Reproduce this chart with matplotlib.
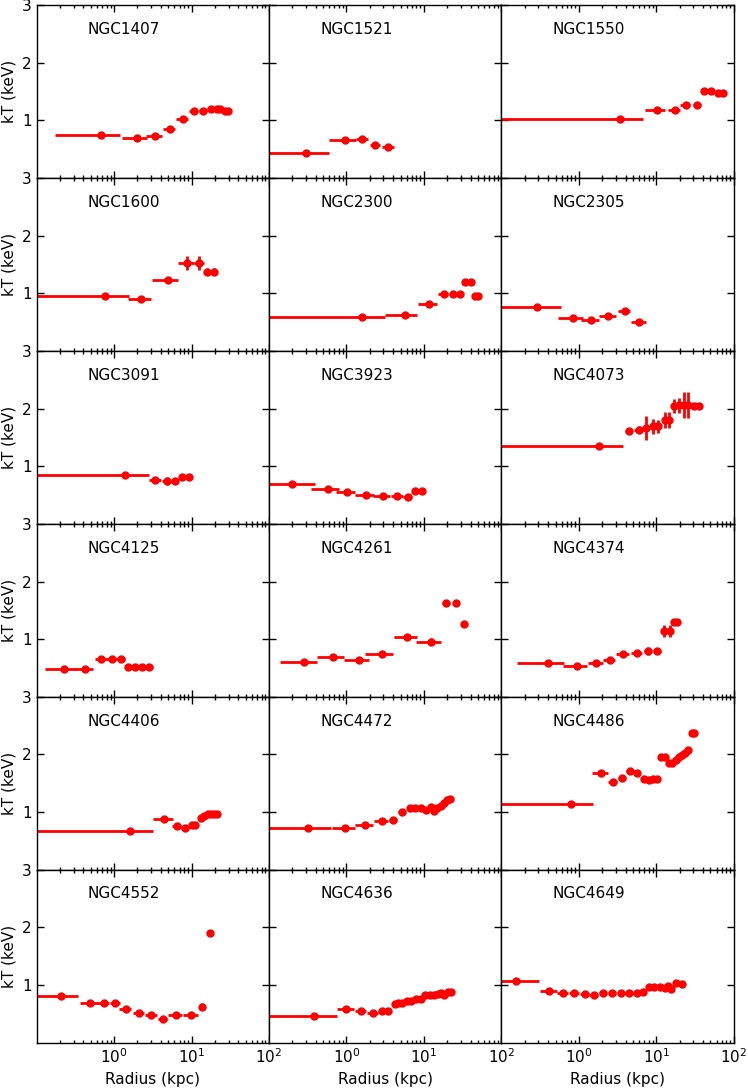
import numpy as np
import matplotlib.pyplot as plt
from matplotlib.ticker import LogLocator, LogFormatterMathtext, NullFormatter

# ----------------------------
# Data: temperature profiles (radius in kpc, kT in keV)
# ----------------------------
galaxies = ["NGC1407", "NGC1521", "NGC1550",
            "NGC1600", "NGC2300", "NGC2305",
            "NGC3091", "NGC3923", "NGC4073",
            "NGC4125", "NGC4261", "NGC4374",
            "NGC4406", "NGC4472", "NGC4486",
            "NGC4552", "NGC4636", "NGC4649"]

R = {
    "NGC1407": [0.68, 1.95, 3.38, 5.2, 7.7, 10.7, 14.0, 17.7, 21.0, 23.0, 27.0, 29.6],
    "NGC1521": [0.30, 0.97, 1.6, 2.35, 3.47],
    "NGC1550": [3.4, 10.1, 17.2, 24.0, 34.0, 41.5, 50.6, 62.0, 73.0],
    "NGC1600": [0.77, 2.25, 4.9, 8.7, 12.6, 16.0, 19.2],
    "NGC2300": [1.58, 5.66, 11.6, 17.9, 24.0, 29.0, 34.0, 40.0, 46.0, 50.0],
    "NGC2305": [0.29, 0.84, 1.44, 2.4, 3.9, 6.0],
    "NGC3091": [1.40, 3.38, 4.8, 6.06, 7.6, 9.35],
    "NGC3923": [0.197, 0.57, 1.01, 1.79, 2.92, 4.5, 6.2, 7.7, 9.3],
    "NGC4073": [1.84, 4.4, 5.9, 7.3, 9.1, 10.5, 12.9, 14.5, 16.9, 19.5, 22.6, 25.7, 30.5, 35.9],
    "NGC4125": [0.225, 0.426, 0.68, 0.935, 1.22, 1.52, 1.86, 2.28, 2.84],
    "NGC4261": [0.28, 0.667, 1.44, 2.88, 6.06, 12.2, 19.2, 25.9, 32.6],
    "NGC4374": [0.40, 0.96, 1.67, 2.51, 3.72, 5.66, 7.9, 10.3, 12.7, 14.8, 16.7, 18.6],
    "NGC4406": [1.61, 4.44, 6.4, 8.3, 10.0, 11.1, 13.1, 14.6, 16.3, 17.7, 19.4, 21.4],
    "NGC4472": [0.316, 0.97, 1.74, 2.84, 4.03, 5.27, 6.57, 7.7, 9.1, 10.7, 12.2, 13.3,
                14.8, 16.5, 18.4, 20.0, 21.6],
    "NGC4486": [0.78, 1.92, 2.76, 3.62, 4.55, 5.66, 6.84, 7.94, 9.1, 10.1, 11.5, 13.1,
                14.6, 15.9, 17.8, 19.5, 21.6, 23.5, 25.7, 28.5, 31.0],
    "NGC4552": [0.205, 0.49, 0.74, 1.03, 1.42, 2.08, 3.03, 4.26, 6.3, 9.87, 13.8, 17.2],
    "NGC4636": [0.38, 1.0, 1.52, 2.19, 2.88, 3.47, 4.2, 4.62, 5.27, 6.06, 6.9, 7.94,
                9.1, 10.4, 11.9, 13.6, 15.2, 16.6, 18.4, 20.5, 22.4],
    "NGC4649": [0.155, 0.415, 0.62, 0.87, 1.19, 1.56, 2.05, 2.69, 3.52, 4.44, 5.58, 6.67,
                7.94, 9.34, 11.0, 12.9, 14.0, 15.6, 17.8, 21.6],
}

DR = {
    "NGC1407": [0.51, 0.68, 0.8, 0.95, 1.4, 1.5, 1.7, 1.7, 1.2, 1.5, 1.3, 1.2],
    "NGC1521": [0.30, 0.37, 0.27, 0.35, 0.6],
    "NGC1550": [3.4, 3.0, 3.0, 3.5, 4.0, 3.5, 4.0, 5.0, 5.0],
    "NGC1600": [0.77, 0.74, 1.85, 2.0, 1.9, 1.5, 1.6],
    "NGC2300": [1.58, 2.5, 3.2, 2.5, 3.0, 2.5, 2.5, 3.0, 2.5, 2.0],
    "NGC2305": [0.29, 0.3, 0.38, 0.6, 0.7, 1.3],
    "NGC3091": [1.38, 0.6, 0.7, 0.6, 0.8, 0.9],
    "NGC3923": [0.197, 0.22, 0.27, 0.5, 0.7, 0.8, 0.8, 0.7, 0.8],
    "NGC4073": [1.84, 0.5, 0.7, 0.7, 0.8, 0.9, 1.0, 0.9, 1.2, 1.3, 1.5, 1.5, 2.0, 2.5],
    "NGC4125": [0.095, 0.11, 0.12, 0.14, 0.15, 0.15, 0.18, 0.22, 0.3],
    "NGC4261": [0.14, 0.25, 0.52, 1.15, 2.0, 4.3, 2.2, 2.5, 0.5],
    "NGC4374": [0.24, 0.33, 0.36, 0.45, 0.7, 0.9, 1.0, 1.2, 1.0, 1.0, 0.9, 1.0],
    "NGC4406": [1.61, 1.3, 0.8, 0.9, 0.6, 0.6, 0.8, 0.8, 0.8, 0.7, 0.9, 1.0],
    "NGC4472": [0.32, 0.32, 0.45, 0.6, 0.5, 0.6, 0.6, 0.6, 0.7, 0.7, 0.6, 0.6,
                0.8, 0.8, 0.8, 0.8, 0.8],
    "NGC4486": [0.75, 0.45, 0.35, 0.4, 0.5, 0.5, 0.5, 0.5, 0.5, 0.5, 0.7, 0.7,
                0.7, 0.7, 0.8, 0.8, 0.9, 1.0, 1.0, 1.2, 1.2],
    "NGC4552": [0.135, 0.13, 0.13, 0.15, 0.25, 0.35, 0.5, 0.6, 1.3, 2.2, 0.5, 0.3],
    "NGC4636": [0.37, 0.25, 0.25, 0.35, 0.3, 0.3, 0.2, 0.25, 0.35, 0.4, 0.45, 0.5,
                0.6, 0.7, 0.8, 0.8, 0.7, 0.7, 0.9, 1.0, 0.9],
    "NGC4649": [0.155, 0.1, 0.1, 0.13, 0.15, 0.2, 0.25, 0.3, 0.4, 0.5, 0.5, 0.5,
                0.6, 0.7, 0.8, 0.6, 0.5, 0.7, 1.0, 1.5],
}

KT = {
    "NGC1407": [0.75, 0.686, 0.726, 0.857, 1.017, 1.166, 1.166, 1.2, 1.2, 1.19, 1.166, 1.166],
    "NGC1521": [0.43, 0.65, 0.68, 0.58, 0.54],
    "NGC1550": [1.03, 1.18, 1.18, 1.27, 1.27, 1.51, 1.51, 1.47, 1.47],
    "NGC1600": [0.955, 0.90, 1.23, 1.53, 1.53, 1.37, 1.37],
    "NGC2300": [0.594, 0.617, 0.817, 0.99, 0.99, 0.99, 1.2, 1.2, 0.96, 0.96],
    "NGC2305": [0.754, 0.571, 0.54, 0.61, 0.69, 0.51],
    "NGC3091": [0.84, 0.766, 0.737, 0.737, 0.806, 0.806],
    "NGC3923": [0.686, 0.611, 0.549, 0.503, 0.49, 0.49, 0.474, 0.566, 0.566],
    "NGC4073": [1.35, 1.61, 1.63, 1.66, 1.69, 1.69, 1.80, 1.80, 2.045, 2.06, 2.06, 2.06,
                2.045, 2.04],
    "NGC4125": [0.48, 0.48, 0.65, 0.65, 0.65, 0.51, 0.51, 0.51, 0.514],
    "NGC4261": [0.606, 0.686, 0.64, 0.75, 1.03, 0.954, 1.634, 1.634, 1.27],
    "NGC4374": [0.594, 0.526, 0.583, 0.63, 0.75, 0.766, 0.80, 0.79, 1.14, 1.14, 1.30, 1.30],
    "NGC4406": [0.669, 0.886, 0.754, 0.731, 0.777, 0.777, 0.89, 0.93, 0.966, 0.97, 0.97, 0.97],
    "NGC4472": [0.72, 0.731, 0.783, 0.851, 0.857, 0.994, 1.069, 1.069, 1.069, 1.04, 1.086,
                1.017, 1.069, 1.114, 1.154, 1.21, 1.22],
    "NGC4486": [1.143, 1.674, 1.53, 1.59, 1.71, 1.67, 1.566, 1.56, 1.577, 1.577, 1.954,
                1.954, 1.857, 1.857, 1.90, 1.95, 1.99, 2.03, 2.07, 2.37, 2.37],
    "NGC4552": [0.811, 0.68, 0.68, 0.68, 0.577, 0.509, 0.474, 0.411, 0.48, 0.48, 0.623, 1.903],
    "NGC4636": [0.469, 0.577, 0.543, 0.509, 0.543, 0.543, 0.669, 0.68, 0.686, 0.731, 0.731,
                0.754, 0.754, 0.834, 0.823, 0.834, 0.851, 0.857, 0.83, 0.874, 0.874],
    "NGC4649": [1.074, 0.891, 0.863, 0.857, 0.846, 0.823, 0.857, 0.863, 0.863, 0.863, 0.863,
                0.886, 0.966, 0.966, 0.966, 0.943, 0.983, 0.937, 1.03, 1.023],
}

DKT = {
    "NGC1407": [0.02, 0.02, 0.02, 0.02, 0.02, 0.02, 0.02, 0.02, 0.02, 0.02, 0.02, 0.02],
    "NGC1521": [0.02, 0.05, 0.05, 0.03, 0.02],
    "NGC1550": [0.02, 0.02, 0.02, 0.02, 0.02, 0.02, 0.02, 0.02, 0.02],
    "NGC1600": [0.02, 0.02, 0.06, 0.12, 0.12, 0.06, 0.06],
    "NGC2300": [0.02, 0.02, 0.02, 0.02, 0.02, 0.02, 0.02, 0.02, 0.02, 0.02],
    "NGC2305": [0.02, 0.02, 0.02, 0.03, 0.02, 0.02],
    "NGC3091": [0.02, 0.04, 0.07, 0.04, 0.02, 0.02],
    "NGC3923": [0.02, 0.02, 0.02, 0.02, 0.02, 0.02, 0.02, 0.02, 0.02],
    "NGC4073": [0.02, 0.03, 0.06, 0.21, 0.13, 0.12, 0.14, 0.14, 0.115, 0.13, 0.22, 0.23,
                0.02, 0.02],
    "NGC4125": [0.02, 0.02, 0.02, 0.02, 0.02, 0.02, 0.02, 0.02, 0.02],
    "NGC4261": [0.02, 0.02, 0.02, 0.02, 0.02, 0.06, 0.04, 0.04, 0.04],
    "NGC4374": [0.02, 0.02, 0.02, 0.02, 0.02, 0.02, 0.07, 0.05, 0.1, 0.1, 0.02, 0.02],
    "NGC4406": [0.02, 0.03, 0.02, 0.02, 0.02, 0.02, 0.02, 0.02, 0.02, 0.02, 0.02, 0.02],
    "NGC4472": [0.02] * 17,
    "NGC4486": [0.02] * 21,
    "NGC4552": [0.02, 0.02, 0.02, 0.02, 0.02, 0.02, 0.02, 0.02, 0.02, 0.02, 0.06, 0.06],
    "NGC4636": [0.02] * 21,
    "NGC4649": [0.02] * 20,
}

# ----------------------------
# Figure: 6 x 3 grid, shared axes
# ----------------------------
fig, axes = plt.subplots(6, 3, figsize=(7.48, 10.9), dpi=100, sharex=True, sharey=True)
fig.subplots_adjust(left=0.049, right=0.981, bottom=0.0434, top=0.9954,
                    wspace=0, hspace=0)

for i, name in enumerate(galaxies):
    ax = axes.flat[i]
    ax.errorbar(R[name], KT[name], xerr=DR[name], yerr=DKT[name],
                fmt="o", color="red", ecolor="red", markersize=5,
                elinewidth=2.0, capsize=0)
    ax.text(0.22, 0.86, name, transform=ax.transAxes, fontsize=11,
            ha="left", va="center")

    ax.set_xscale("log")
    ax.set_xlim(0.1, 100)
    ax.set_ylim(0, 3)
    ax.set_yticks([1, 2, 3])
    ax.set_xticks([1, 10, 100])
    ax.xaxis.set_major_formatter(LogFormatterMathtext())
    ax.xaxis.set_minor_locator(LogLocator(base=10, subs=np.arange(2, 10)))
    ax.xaxis.set_minor_formatter(NullFormatter())
    ax.tick_params(which="both", direction="in", top=True, right=True,
                   labelsize=11, width=1.0)
    ax.tick_params(which="major", length=5)
    ax.tick_params(which="minor", length=2.5)
    for sp in ax.spines.values():
        sp.set_linewidth(1.0)

    if i % 3 == 0:
        ax.set_ylabel("kT (keV)", fontsize=11)
    if i >= 15:
        ax.set_xlabel("Radius (kpc)", fontsize=11)

plt.savefig("out.png", dpi=100)
